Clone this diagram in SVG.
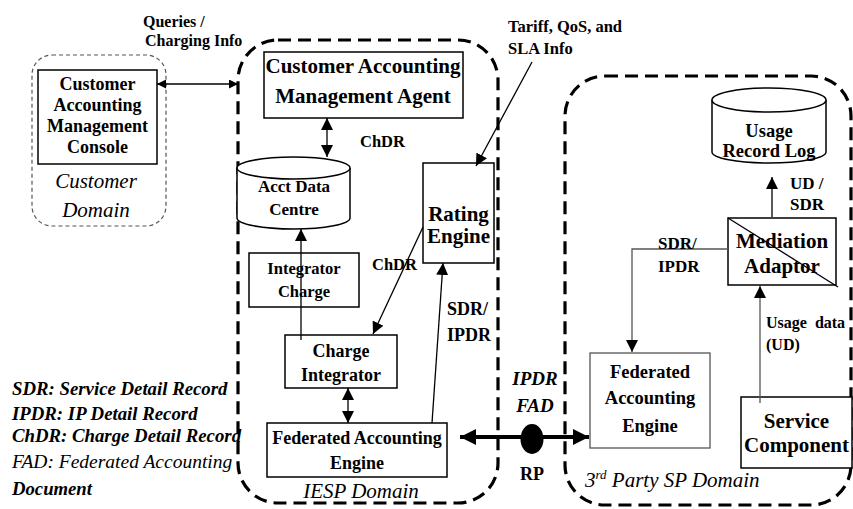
<svg xmlns="http://www.w3.org/2000/svg" width="853" height="509" viewBox="0 0 853 509" font-family="Liberation Serif">
<style>
.b{font-weight:bold}
.i{font-style:italic}
.m{text-anchor:middle}
.box{fill:#fff;stroke:#000;stroke-width:1.5}
.gbox{fill:#fff;stroke:#555;stroke-width:1.3}
.cyl{fill:#fff;stroke:#000;stroke-width:1.5}
.dom{fill:none;stroke:#000;stroke-width:3.2;stroke-dasharray:13 7}
.cdom{fill:none;stroke:#555;stroke-width:1.2;stroke-dasharray:4 3}
.ln{fill:none;stroke:#000;stroke-width:1.3}
.gl{fill:none;stroke:#555;stroke-width:1.3}
</style>
<defs>
<marker id="ah" viewBox="0 0 12 12" markerWidth="12" markerHeight="12" refX="12" refY="6" orient="auto-start-reverse" markerUnits="userSpaceOnUse"><path d="M0,0 L12,6 L0,12 Z" fill="#000"/></marker>
<marker id="sm" viewBox="0 0 10 10" markerWidth="9" markerHeight="9" refX="10" refY="5" orient="auto-start-reverse" markerUnits="userSpaceOnUse"><path d="M0,0 L10,5 L0,10 Z" fill="#000"/></marker>
<marker id="big" viewBox="0 0 16 16" markerWidth="16" markerHeight="16" refX="16" refY="8" orient="auto-start-reverse" markerUnits="userSpaceOnUse"><path d="M0,0 L16,8 L0,16 Z" fill="#000"/></marker>
</defs>

<g id="customer-domain" font-family="Liberation Serif">
<rect class="cdom" x="32" y="55" width="134" height="171" rx="20"/>
<text class="i m" x="96" y="188" font-size="21">Customer</text>
<text class="i m" x="96" y="217" font-size="21">Domain</text>
</g>
<g id="iesp-domain" font-family="Liberation Serif">
<rect class="dom" x="238" y="40" width="260" height="463" rx="40"/>
<text class="i m" x="361" y="498" font-size="21">IESP Domain</text>
</g>
<g id="sp-domain" font-family="Liberation Serif">
<rect class="dom" x="565" y="76" width="286" height="429" rx="40"/>
<text class="i" x="585" y="487" font-size="21">3<tspan font-size="13" dy="-8">rd</tspan><tspan dy="8"> Party SP Domain</tspan></text>
</g>

<g id="console" font-family="Liberation Serif">
<rect class="box" x="38" y="70" width="119" height="94"/>
<text class="b m" x="97.5" y="90" font-size="18">Customer</text>
<text class="b m" x="97.5" y="111" font-size="18">Accounting</text>
<text class="b m" x="97.5" y="132" font-size="18">Management</text>
<text class="b m" x="97.5" y="153" font-size="18">Console</text>
</g>
<g id="agent" font-family="Liberation Serif">
<rect class="box" x="264" y="52" width="199" height="66"/>
<text class="b m" x="363" y="73" font-size="21">Customer Accounting</text>
<text class="b m" x="363" y="103" font-size="21">Management Agent</text>
</g>
<g id="acct-data-centre" font-family="Liberation Serif">
<path class="cyl" d="M237,168 L237,218 A56.5,11 0 0 0 350,218 L350,168 A56.5,11 0 0 0 237,168 Z"/>
<path class="cyl" fill="none" d="M237,168 A56.5,11 0 0 0 350,168"/>
<text class="b m" x="294" y="192" font-size="17">Acct Data</text>
<text class="b m" x="294" y="215" font-size="17">Centre</text>
</g>
<g id="integrator-charge" font-family="Liberation Serif">
<rect class="box" x="249" y="253" width="110" height="54"/>
<text class="b m" x="304" y="274" font-size="16.5">Integrator</text>
<text class="b m" x="304" y="297" font-size="16.5">Charge</text>
</g>
<g id="charge-integrator" font-family="Liberation Serif">
<rect class="box" x="285" y="335" width="112" height="53"/>
<text class="b m" x="341" y="357" font-size="18">Charge</text>
<text class="b m" x="341" y="381" font-size="18">Integrator</text>
</g>
<g id="fae-iesp" font-family="Liberation Serif">
<rect class="box" x="267" y="423" width="180" height="54"/>
<text class="b m" x="357" y="444" font-size="18">Federated Accounting</text>
<text class="b m" x="357" y="469" font-size="18">Engine</text>
</g>
<g id="rating-engine" font-family="Liberation Serif">
<rect class="box" x="423" y="163" width="71" height="100"/>
<text class="b m" x="458.5" y="221" font-size="21">Rating</text>
<text class="b m" x="458.5" y="243" font-size="21">Engine</text>
</g>
<g id="usage-record-log" font-family="Liberation Serif">
<path class="cyl" d="M712,100 L712,152 A57,11 0 0 0 826,152 L826,100 A57,12 0 0 0 712,100 Z"/>
<path class="cyl" fill="none" d="M712,100 A57,12 0 0 0 826,100"/>
<text class="b m" x="769" y="137" font-size="18.5">Usage</text>
<text class="b m" x="769" y="157" font-size="18.5">Record Log</text>
</g>
<g id="mediation-adaptor" font-family="Liberation Serif">
<rect class="box" x="728" y="218" width="108" height="67" stroke-width="2"/>
<line x1="728" y1="218" x2="838" y2="287" stroke="#000" stroke-width="1.3"/>
<text class="b m" x="782" y="248" font-size="21">Mediation</text>
<text class="b m" x="782" y="273" font-size="21">Adaptor</text>
</g>
<g id="fae-sp" font-family="Liberation Serif">
<rect class="gbox" x="590" y="353" width="120" height="95"/>
<text class="b m" x="650" y="378" font-size="18.5">Federated</text>
<text class="b m" x="650" y="404" font-size="18.5">Accounting</text>
<text class="b m" x="650" y="432" font-size="18.5">Engine</text>
</g>
<g id="service-component" font-family="Liberation Serif">
<rect class="box" x="741" y="397" width="111" height="71"/>
<text class="b m" x="796.5" y="428" font-size="21">Service</text>
<text class="b m" x="796.5" y="452" font-size="21">Component</text>
</g>

<g id="connectors">
<line class="ln" x1="157" y1="84" x2="238" y2="84" marker-start="url(#sm)" marker-end="url(#sm)"/>
<line class="ln" x1="327" y1="118" x2="327" y2="157" marker-start="url(#ah)" marker-end="url(#ah)"/>
<line class="ln" x1="301" y1="340" x2="301" y2="229" marker-end="url(#ah)"/>
<line class="ln" x1="348" y1="388" x2="348" y2="423" marker-start="url(#ah)" marker-end="url(#ah)"/>
<line class="ln" x1="532" y1="62" x2="476" y2="166" marker-end="url(#ah)"/>
<line class="ln" x1="423" y1="227" x2="373" y2="334" marker-end="url(#ah)"/>
<line class="ln" x1="432" y1="423" x2="443" y2="263" marker-end="url(#ah)"/>
<line x1="460" y1="437" x2="589" y2="437" stroke="#000" stroke-width="4" marker-start="url(#big)" marker-end="url(#big)"/>
<ellipse cx="532" cy="439" rx="11.5" ry="15" fill="#000"/>
<polyline class="gl" points="728,249 632,249 632,352" marker-end="url(#ah)"/>
<line class="gl" x1="760" y1="403" x2="760" y2="286" marker-end="url(#ah)"/>
<line class="ln" x1="772" y1="217" x2="772" y2="177" marker-end="url(#ah)"/>
</g>

<g id="labels" font-family="Liberation Serif">
<text class="b" x="143" y="27" font-size="16">Queries /</text>
<text class="b" x="145" y="46" font-size="16">Charging Info</text>
<text class="b" x="508" y="32" font-size="16.5">Tariff, QoS, and</text>
<text class="b" x="508" y="54" font-size="16.5">SLA Info</text>
<text class="b" x="360" y="147" font-size="16.5">ChDR</text>
<text class="b" x="372" y="270" font-size="16.5">ChDR</text>
<text class="b" x="447" y="315" font-size="18">SDR/</text>
<text class="b" x="447" y="341" font-size="18">IPDR</text>
<text class="b i m" x="535" y="385" font-size="19">IPDR</text>
<text class="b i m" x="535" y="412" font-size="19">FAD</text>
<text class="b m" x="532" y="480" font-size="18">RP</text>
<text class="b" x="658" y="249" font-size="17">SDR/</text>
<text class="b" x="658" y="272" font-size="17">IPDR</text>
<text class="b" x="790" y="189" font-size="17">UD /</text>
<text class="b" x="790" y="210" font-size="17">SDR</text>
<text class="b" x="766" y="328" font-size="16" word-spacing="4">Usage data</text>
<text class="b" x="766" y="350" font-size="16">(UD)</text>
</g>

<g id="legend" font-family="Liberation Serif">
<text class="b i" x="12" y="395" font-size="18.8">SDR: Service Detail Record</text>
<text class="b i" x="12" y="420" font-size="18.8">IPDR: IP Detail Record</text>
<text class="b i" x="12" y="442" font-size="18.8">ChDR: Charge Detail Record</text>
<text class="i" x="12" y="468" font-size="19.5">FAD: Federated Accounting</text>
<text class="b i" x="12" y="495" font-size="18.7">Document</text>
</g>
</svg>
